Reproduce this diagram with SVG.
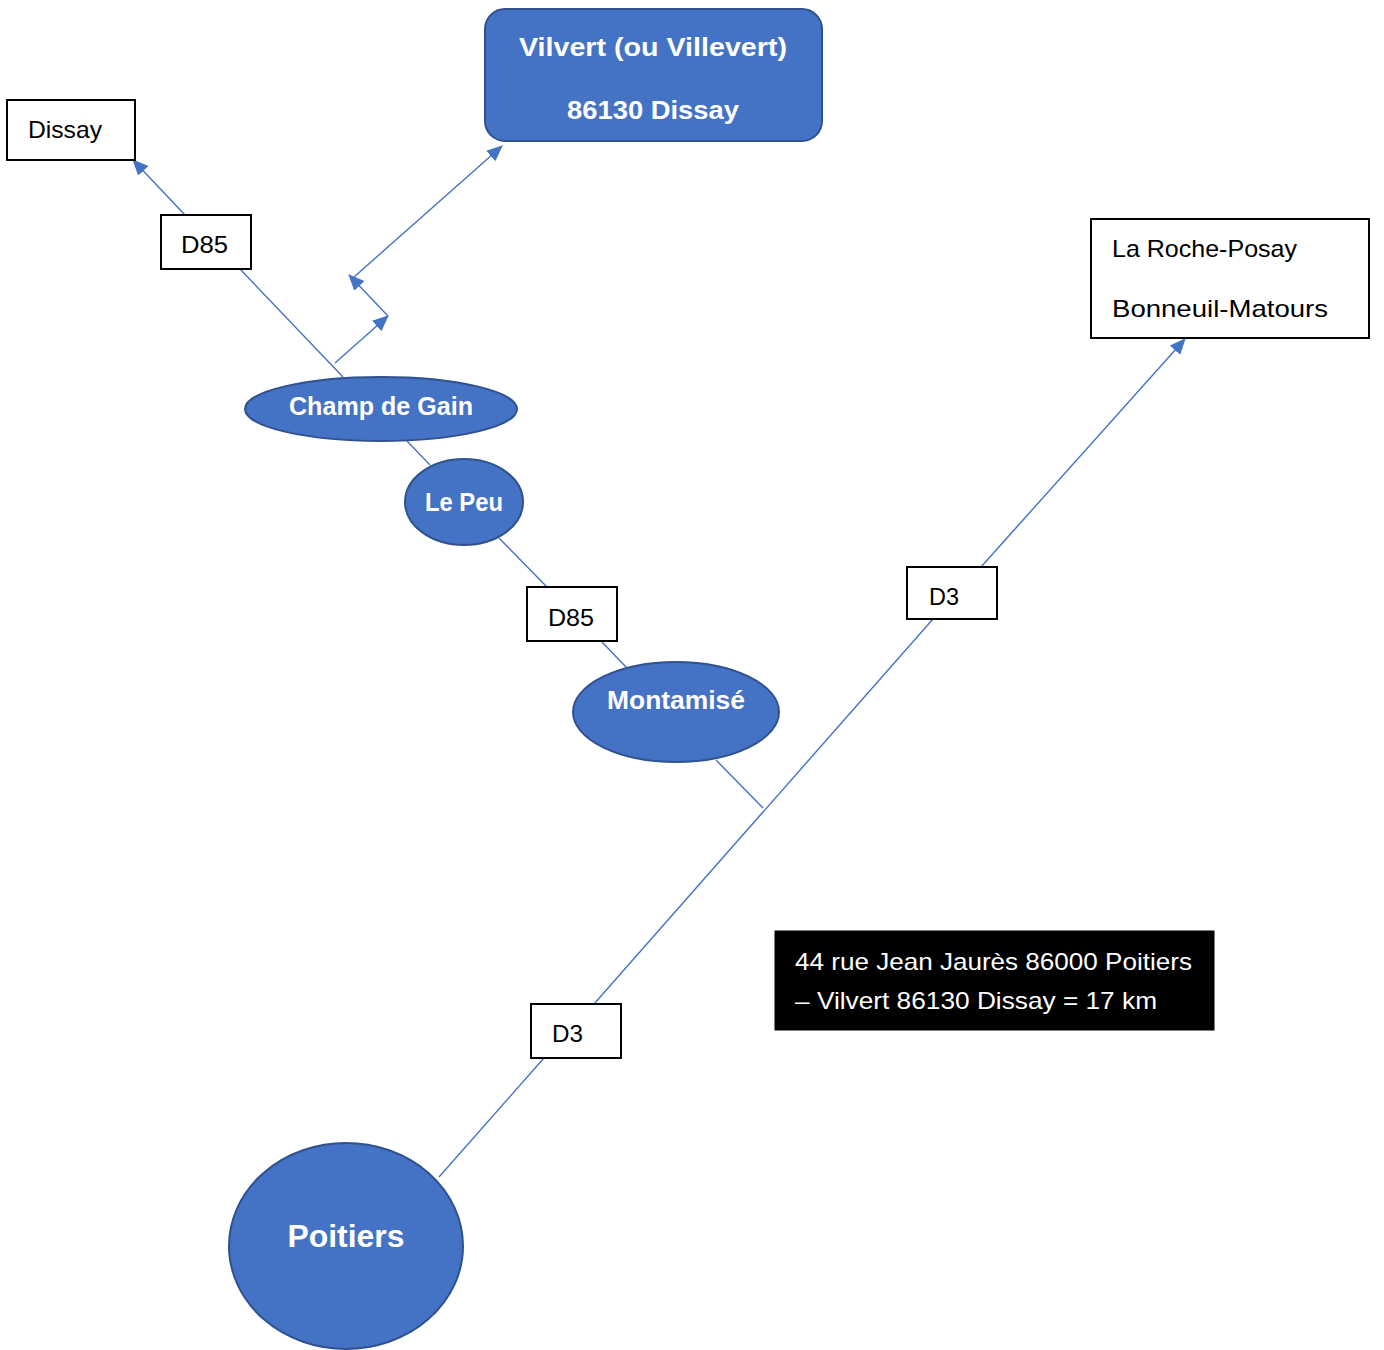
<svg xmlns="http://www.w3.org/2000/svg" width="1384" height="1350" viewBox="0 0 1384 1350">
<style>
.bg{fill:#ffffff}
.blue{fill:#4472C4;stroke:#2F528F;stroke-width:2}
.box{fill:#ffffff;stroke:#000000;stroke-width:2}
.note{fill:#000000;stroke:#000000;stroke-width:1}
.t{font-family:"Liberation Sans",Arial,sans-serif;font-size:24px;fill:#000000}
.tw{font-family:"Liberation Sans",Arial,sans-serif;font-size:24px;fill:#ffffff}
.tb{font-family:"Liberation Sans",Arial,sans-serif;font-size:26px;font-weight:bold;fill:#ffffff;text-anchor:middle}
.conn line{stroke:#4472C4;stroke-width:1.4;fill:none}
</style>
<defs>
<marker id="ah" markerUnits="userSpaceOnUse" markerWidth="18" markerHeight="16" refX="15" refY="7" orient="auto">
<path d="M0,0 L16,7 L0,14 Z" fill="#4472C4"/>
</marker>
</defs>
<rect class="bg" x="0" y="0" width="1384" height="1350"/>

<g id="connectors" class="conn">
<line x1="185" y1="215" x2="133" y2="160" marker-end="url(#ah)"/>
<line x1="240" y1="269" x2="343" y2="377"/>
<line x1="335" y1="363" x2="388" y2="316" marker-end="url(#ah)"/>
<line x1="388" y1="316" x2="349" y2="275" marker-end="url(#ah)"/>
<line x1="354" y1="277" x2="502" y2="146" marker-end="url(#ah)"/>
<line x1="407" y1="441" x2="430" y2="465"/>
<line x1="499" y1="538" x2="547" y2="587"/>
<line x1="601" y1="641" x2="626" y2="667"/>
<line x1="716" y1="760" x2="763" y2="808"/>
<line x1="439" y1="1177" x2="544" y2="1058"/>
<line x1="594" y1="1004" x2="933" y2="619"/>
<line x1="981" y1="567" x2="1185" y2="339" marker-end="url(#ah)"/>
</g>

<g id="vilvert">
<rect class="blue" x="485" y="9" width="337" height="132" rx="20" ry="20"/>
<text class="tb" x="653" y="56" textLength="268" lengthAdjust="spacingAndGlyphs">Vilvert (ou Villevert)</text>
<text class="tb" x="653" y="119" textLength="172" lengthAdjust="spacingAndGlyphs">86130 Dissay</text>
</g>

<g id="dissay">
<rect class="box" x="7" y="100" width="128" height="60"/>
<text class="t" x="28" y="138" textLength="74" lengthAdjust="spacingAndGlyphs">Dissay</text>
</g>

<g id="d85-top">
<rect class="box" x="161" y="215" width="90" height="54"/>
<text class="t" x="181" y="253" textLength="47" lengthAdjust="spacingAndGlyphs">D85</text>
</g>

<g id="roche-posay">
<rect class="box" x="1091" y="219" width="278" height="119"/>
<text class="t" x="1112" y="257" textLength="185" lengthAdjust="spacingAndGlyphs">La Roche-Posay</text>
<text class="t" x="1112" y="317" textLength="216" lengthAdjust="spacingAndGlyphs">Bonneuil-Matours</text>
</g>

<g id="champ-de-gain">
<ellipse class="blue" cx="381" cy="409" rx="136" ry="32"/>
<text class="tb" x="381" y="415" textLength="184" lengthAdjust="spacingAndGlyphs">Champ de Gain</text>
</g>

<g id="le-peu">
<ellipse class="blue" cx="464" cy="502" rx="59" ry="43"/>
<text class="tb" x="464" y="511" textLength="78" lengthAdjust="spacingAndGlyphs">Le Peu</text>
</g>

<g id="d85-mid">
<rect class="box" x="527" y="587" width="90" height="54"/>
<text class="t" x="548" y="626" textLength="46" lengthAdjust="spacingAndGlyphs">D85</text>
</g>

<g id="montamise">
<ellipse class="blue" cx="676" cy="712" rx="103" ry="50"/>
<text class="tb" x="676" y="709" textLength="138" lengthAdjust="spacingAndGlyphs">Montamisé</text>
</g>

<g id="d3-top">
<rect class="box" x="907" y="567" width="90" height="52"/>
<text class="t" x="929" y="605" textLength="30" lengthAdjust="spacingAndGlyphs">D3</text>
</g>

<g id="d3-bottom">
<rect class="box" x="531" y="1004" width="90" height="54"/>
<text class="t" x="552" y="1042" textLength="31" lengthAdjust="spacingAndGlyphs">D3</text>
</g>

<g id="distance-note">
<rect class="note" x="775" y="931" width="439" height="99"/>
<text class="tw" x="795" y="970" textLength="397" lengthAdjust="spacingAndGlyphs">44 rue Jean Jaurès 86000 Poitiers</text>
<text class="tw" x="795" y="1009" textLength="362" lengthAdjust="spacingAndGlyphs">– Vilvert 86130 Dissay = 17 km</text>
</g>

<g id="poitiers">
<ellipse class="blue" cx="346" cy="1246" rx="117" ry="103"/>
<text class="tb" x="346" y="1247" style="font-size:32px" textLength="117" lengthAdjust="spacingAndGlyphs">Poitiers</text>
</g>
</svg>
